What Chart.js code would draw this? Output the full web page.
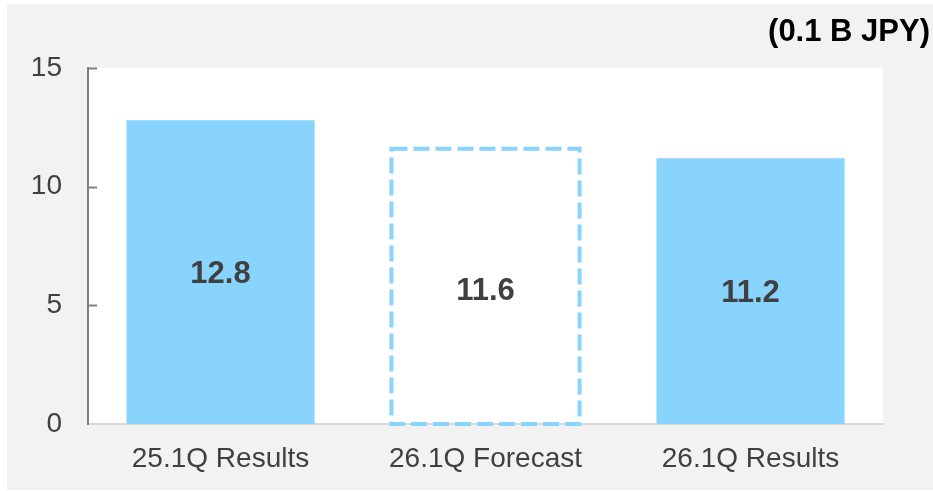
<!DOCTYPE html>
<html>
<head>
<meta charset="utf-8">
<script src="https://cdn.jsdelivr.net/npm/chart.js@4"></script>
<style>
  html, body { margin: 0; padding: 0; background: #ffffff; }
  canvas { display: block; }
</style>
</head>
<body>
<canvas id="profitChart" width="933" height="491"></canvas>
<script>
const categories = ["25.1Q Results", "26.1Q Forecast", "26.1Q Results"];
const values = [12.8, 11.6, 11.2];
const forecast = [false, true, false];
const yTicks = [0, 5, 10, 15];
const unitLabel = "(0.1 B JPY)";

const barBlue = "#88D4FD";
const textGray = "#404040";
const fontFamily = "Arial, 'Liberation Sans', sans-serif";

// gray panel behind everything, white plot area
const panelPlugin = {
  id: "panel",
  beforeDraw(chart) {
    const { ctx, chartArea } = chart;
    ctx.save();
    ctx.fillStyle = "#f2f2f2";
    ctx.fillRect(7, 4, chart.width - 7, chart.height - 5);
    ctx.fillStyle = "#ffffff";
    ctx.fillRect(chartArea.left, chartArea.top,
      chartArea.right - chartArea.left, chartArea.bottom - chartArea.top);
    ctx.restore();
  },
};

// short inward tick marks on the value axis
const yTickMarks = {
  id: "yTickMarks",
  afterDraw(chart) {
    const { ctx } = chart;
    const y = chart.scales.y;
    ctx.save();
    ctx.strokeStyle = "#7f7f7f";
    ctx.lineWidth = 2;
    yTicks.forEach((v) => {
      if (v === 0) return;
      const py = Math.round(y.getPixelForValue(v)) + 0.5;
      ctx.beginPath();
      ctx.moveTo(y.right, py);
      ctx.lineTo(y.right + 9, py);
      ctx.stroke();
    });
    ctx.restore();
  },
};

// dashed outline for forecast bars, value labels and unit text
const barDecor = {
  id: "barDecor",
  afterDatasetsDraw(chart) {
    const { ctx } = chart;
    const meta = chart.getDatasetMeta(0);
    ctx.save();
    meta.data.forEach((bar, i) => {
      const left = bar.x - bar.width / 2;
      if (forecast[i]) {
        ctx.strokeStyle = barBlue;
        ctx.lineWidth = 4;
        ctx.setLineDash([16, 6]);
        ctx.strokeRect(left, bar.y, bar.width, bar.base - bar.y);
        ctx.setLineDash([]);
      }
      ctx.fillStyle = textGray;
      ctx.font = "bold 31px " + fontFamily;
      ctx.textAlign = "center";
      ctx.textBaseline = "middle";
      const dy = forecast[i] ? 5 : 2;
      ctx.fillText(values[i].toFixed(1), bar.x, (bar.y + bar.base) / 2 + dy);
    });
    ctx.fillStyle = "#000000";
    ctx.font = "bold 31px " + fontFamily;
    ctx.textAlign = "right";
    ctx.textBaseline = "middle";
    ctx.fillText(unitLabel, 930, 32);
    ctx.restore();
  },
};

new Chart(document.getElementById("profitChart").getContext("2d"), {
  type: "bar",
  data: {
    labels: categories,
    datasets: [
      {
        data: values,
        backgroundColor: forecast.map((f) => (f ? "rgba(0,0,0,0)" : barBlue)),
        borderWidth: 0,
        categoryPercentage: 1,
        barPercentage: 0.71,
      },
    ],
  },
  options: {
    responsive: false,
    animation: false,
    layout: { padding: { left: 0, top: 68, right: 50, bottom: 0 } },
    plugins: {
      legend: { display: false },
      tooltip: { enabled: false },
    },
    scales: {
      x: {
        grid: { display: false, drawTicks: false },
        border: { display: true, color: "#d9d9d9", width: 2 },
        ticks: {
          color: textGray,
          font: { family: fontFamily, size: 28 },
          padding: 18,
          maxRotation: 0,
        },
        afterFit(scale) {
          scale.height = 67;
        },
      },
      y: {
        min: 0,
        max: 15,
        afterBuildTicks(scale) {
          scale.ticks = yTicks.map((v) => ({ value: v }));
        },
        grid: { display: false, drawTicks: false },
        border: { display: true, color: "#7f7f7f", width: 2 },
        ticks: {
          color: textGray,
          font: { family: fontFamily, size: 28 },
          padding: 26,
        },
        afterFit(scale) {
          scale.width = 88;
        },
      },
    },
  },
  plugins: [panelPlugin, yTickMarks, barDecor],
});
</script>
</body>
</html>
